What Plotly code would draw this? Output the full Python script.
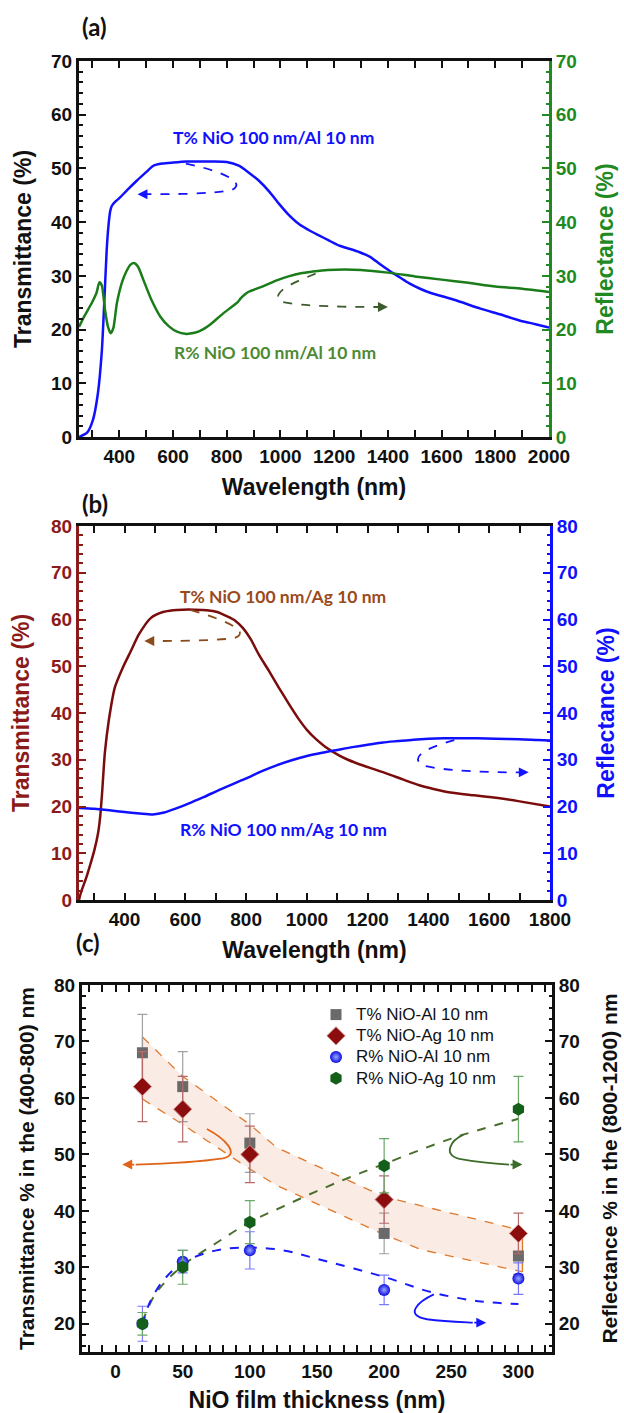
import plotly.graph_objects as go

# ---------------- Panel (a): NiO 100 nm / Al 10 nm ----------------
a_wl_T = [250, 280, 302, 320, 335, 345, 353, 360, 366, 372, 385, 403, 430, 465, 500, 527, 560, 600,
          650, 700, 750, 800, 845, 880, 920, 960, 995, 1030, 1070, 1110, 1145, 1180, 1220, 1260, 1295,
          1335, 1370, 1410, 1445, 1480, 1520, 1560, 1595, 1650, 1745, 1820, 1890, 1950, 2000]
a_T = [0, 0.8, 3.2, 8, 16, 26, 34.7, 39.5, 42, 43, 43.8, 44.6, 46, 47.7, 49.3, 50.5, 50.9, 51.1,
       51.3, 51.3, 51.3, 51.2, 50.5, 49.3, 47.7, 45.6, 43.4, 41.4, 39.6, 38.4, 37.5, 36.6, 35.6, 35.0, 34.4,
       33.5, 32.2, 30.8, 29.7, 28.6, 27.6, 26.8, 26.3, 25.5, 23.9, 22.8, 21.7, 21.0, 20.4]
a_wl_R = [250, 270, 297, 315, 326, 335, 347, 358, 368, 378, 391, 410, 428, 442, 455, 470, 490, 520,
          553, 585, 615, 646, 680, 710, 740, 777, 810, 839, 852, 864, 880, 900, 927, 960, 989, 1030,
          1076, 1120, 1176, 1240, 1300, 1400, 1500, 1600, 1700, 1800, 1900, 2000]
a_R = [20.5, 22.5, 24.9, 26.8, 28.8, 28.2, 23.6, 20.5, 19.3, 20.3, 24.9, 28.8, 31.0, 32.1, 32.4, 31.7, 29.2, 25.5,
       22.4, 20.6, 19.6, 19.2, 19.4, 20.0, 21.0, 22.6, 23.9, 25.0, 25.8, 26.4, 27.0, 27.4, 27.9, 28.6, 29.2, 29.9,
       30.5, 30.8, 31.1, 31.2, 31.1, 30.6, 29.9, 29.3, 28.7, 28.0, 27.6, 27.0]
a_xticks = [400, 600, 800, 1000, 1200, 1400, 1600, 1800, 2000]
a_yticks = [0, 10, 20, 30, 40, 50, 60, 70]

# ---------------- Panel (b): NiO 100 nm / Ag 10 nm ----------------
b_wl_T = [250, 256, 275, 289, 300, 313, 320, 326, 335, 348, 368, 394, 421, 447, 486, 526, 560, 592,
          630, 670, 705, 736, 765, 789, 815, 841, 875, 907, 940, 972, 1000, 1030, 1060, 1104, 1135,
          1170, 1215, 1261, 1315, 1367, 1420, 1472, 1550, 1629, 1700, 1800]
b_T = [0, 1.5, 5, 8, 10.5, 14.4, 18, 22.9, 31.4, 38.4, 45.5, 49.7, 53.3, 56.8, 60.3, 61.6, 62.0, 62.1,
       62.1, 62.0, 61.6, 60.7, 59.7, 58.2, 55.8, 52.6, 49.0, 45.5, 42.0, 38.8, 36.4, 34.4, 32.8, 31.0, 30.0,
       29.1, 28.1, 27.1, 25.8, 24.6, 23.7, 23.0, 22.4, 21.8, 21.1, 20.0]
b_wl_R = [250, 300, 350, 400, 450, 493, 530, 570, 620, 660, 710, 760, 800, 850, 900, 950, 1000, 1050,
          1100, 1150, 1200, 1250, 1300, 1350, 1400, 1450, 1500, 1560, 1620, 1700, 1760, 1800]
b_R = [19.7, 19.5, 19.2, 18.8, 18.5, 18.3, 18.7, 19.6, 20.9, 22.0, 23.5, 24.9, 26.0, 27.5, 28.8, 29.9, 30.8, 31.5,
       32.1, 32.7, 33.2, 33.7, 34.0, 34.3, 34.5, 34.6, 34.6, 34.6, 34.5, 34.4, 34.2, 34.1]
b_xticks = [400, 600, 800, 1000, 1200, 1400, 1600, 1800]
b_yticks = [0, 10, 20, 30, 40, 50, 60, 70, 80]

# ---------------- Panel (c): vs NiO thickness ----------------
thickness = [20, 50, 100, 200, 300]
T_Al = [68, 62, 52, 36, 32]
T_Al_err = [6.8, 6.2, 5.2, 3.6, 3.2]
T_Ag = [62, 58, 50, 42, 36]
T_Ag_err = [6.2, 5.8, 5.0, 4.2, 3.6]
R_Al = [20, 31, 33, 26, 28]
R_Al_err = [3.1, 2.0, 3.3, 2.6, 2.8]
R_Ag = [20, 30, 38, 48, 58]
R_Ag_err = [2.0, 3.0, 3.8, 4.8, 5.8]
band_up_x = [20, 50, 100, 120, 200, 303]
band_up_y = [70.8, 63.8, 55.3, 51.2, 42.5, 36.5]
band_lo_x = [20, 50, 100, 120, 200, 228, 303]
band_lo_y = [59.8, 55.3, 47.4, 44.5, 35.8, 33.1, 29.2]
fit_RAg_x = [20, 30, 50, 75, 100, 125, 150, 175, 200, 250, 300]
fit_RAg_y = [20.3, 25.4, 30.3, 34.3, 38.0, 40.8, 43.5, 46.0, 48.3, 52.8, 56.3]
fit_RAl_x = [20, 25, 35, 50, 75, 100, 125, 150, 200, 235, 270, 300]
fit_RAl_y = [19.7, 23.5, 27.5, 30.8, 33.0, 33.5, 33.0, 31.5, 28.3, 25.6, 24.0, 23.5]
c_xticks = [0, 50, 100, 150, 200, 250, 300]
c_yticks = [20, 30, 40, 50, 60, 70, 80]

# curved guide arrows: xref, yref, colour, dash, path control points, tail, tip
arrows = [
    ("x", "y", "#1414ff", "dash", [(648, 50.9), (760, 49.8), (880, 47.5), (820, 46.0), (740, 45.2), (600, 45.2), (500, 45.2)], (500, 45.2), (468, 45.2)),
    ("x", "y", "#3d5c2c", "dash", [(1131, 30.4), (1060, 29.0), (960, 27.0), (1000, 25.2), (1080, 24.3), (1250, 24.2), (1370, 24.2)], (1370, 24.2), (1400, 24.2)),
    ("x2", "y3", "#8b4a1a", "dash", [(618, 62.0), (700, 60.5), (830, 57.5), (760, 56.0), (680, 55.4), (560, 55.4), (495, 55.4)], (495, 55.4), (465, 55.4)),
    ("x2", "y3", "#1414ff", "dash", [(1485, 34.2), (1420, 33.0), (1330, 31.0), (1380, 28.8), (1450, 27.6), (1600, 27.3), (1700, 27.3)], (1700, 27.3), (1730, 27.3)),
    ("x3", "y5", "#e0641a", "solid", [(68, 54.5), (80, 53.0), (94, 50.0), (80, 49.3), (60, 48.6), (30, 48.3), (15, 48.2)], (15, 48.2), (5, 48.2)),
    ("x3", "y5", "#3d6b2a", "solid", [(259, 53.5), (250, 52.5), (243, 50.0), (256, 49.2), (270, 48.6), (285, 48.3), (293, 48.2)], (293, 48.2), (303, 48.2)),
    ("x3", "y5", "#1414ff", "solid", [(237, 25.2), (226, 24.0), (214, 21.5), (232, 20.8), (245, 20.4), (258, 20.3), (266, 20.2)], (266, 20.2), (276, 20.2)),
]

TICKF = "Liberation Sans, Arial, sans-serif"
LABF = "Lato, Carlito, sans-serif"
BLACK = "#111111"
GREEN = "#1f8a1f"
GREEN_TXT = "#4d8a33"
BLUE = "#1010ff"
MAROON = "#7a0c0c"
MAROON_TXT = "#8b1a1a"
BROWN_TXT = "#9a4a1a"

W, H = 624, 1413


def px(x):
    return x / W


def py(y):
    return 1 - y / H


def big(name):
    return '<span style="font-size:17px">%s</span>' % name


fig = go.Figure()

# panel (a)
fig.add_trace(go.Scatter(x=a_wl_T, y=a_T, mode="lines", line=dict(color=BLUE, width=2.5, shape="spline", smoothing=0.6),
                         xaxis="x", yaxis="y", showlegend=False))
fig.add_trace(go.Scatter(x=a_wl_R, y=a_R, mode="lines", line=dict(color="#1a7d1a", width=2.5, shape="spline", smoothing=0.6),
                         xaxis="x", yaxis="y2", showlegend=False))
# panel (b)
fig.add_trace(go.Scatter(x=b_wl_T, y=b_T, mode="lines", line=dict(color=MAROON, width=2.5, shape="spline", smoothing=0.6),
                         xaxis="x2", yaxis="y3", showlegend=False))
fig.add_trace(go.Scatter(x=b_wl_R, y=b_R, mode="lines", line=dict(color=BLUE, width=2.5, shape="spline", smoothing=0.6),
                         xaxis="x2", yaxis="y4", showlegend=False))

# panel (c) band
fig.add_trace(go.Scatter(x=band_up_x + band_lo_x[::-1], y=band_up_y + band_lo_y[::-1], mode="lines",
                         fill="toself", fillcolor="rgba(240,200,180,0.35)", line=dict(width=0),
                         xaxis="x3", yaxis="y5", showlegend=False, hoverinfo="skip"))
fig.add_trace(go.Scatter(x=band_up_x, y=band_up_y, mode="lines", line=dict(color="#e0782a", width=1.3, dash="dash"),
                         xaxis="x3", yaxis="y5", showlegend=False))
fig.add_trace(go.Scatter(x=band_lo_x, y=band_lo_y, mode="lines", line=dict(color="#e0782a", width=1.3, dash="dash"),
                         xaxis="x3", yaxis="y5", showlegend=False))
fig.add_trace(go.Scatter(x=[band_up_x[0], band_lo_x[0]], y=[band_up_y[0], band_lo_y[0]], mode="lines",
                         line=dict(color="#e0782a", width=1.3), xaxis="x3", yaxis="y5", showlegend=False))
fig.add_trace(go.Scatter(x=[band_up_x[-1], band_lo_x[-1]], y=[band_up_y[-1], band_lo_y[-1]], mode="lines",
                         line=dict(color="#e0782a", width=1.3), xaxis="x3", yaxis="y5", showlegend=False))
# fitted dashed guides
fig.add_trace(go.Scatter(x=fit_RAg_x, y=fit_RAg_y, mode="lines", line=dict(color="#4a6e2e", width=2, dash="dash", shape="spline"),
                         xaxis="x3", yaxis="y6", showlegend=False))
fig.add_trace(go.Scatter(x=fit_RAl_x, y=fit_RAl_y, mode="lines", line=dict(color="#1a1aff", width=2, dash="dash", shape="spline"),
                         xaxis="x3", yaxis="y6", showlegend=False))
# markers
fig.add_trace(go.Scatter(x=thickness, y=T_Al, mode="markers", name=big("T% NiO-Al 10 nm"),
                         marker=dict(symbol="square", size=11, color="#6a6a6a"),
                         error_y=dict(type="data", array=T_Al_err, color="#a0a0a0", thickness=1.2, width=5),
                         xaxis="x3", yaxis="y5"))
fig.add_trace(go.Scatter(x=thickness, y=T_Ag, mode="markers", name=big("T% NiO-Ag 10 nm"),
                         marker=dict(symbol="diamond", size=14, color="#8b0d0d", line=dict(color="#d08a8a", width=1)),
                         error_y=dict(type="data", array=T_Ag_err, color="#b86a6a", thickness=1.2, width=5),
                         xaxis="x3", yaxis="y5"))
fig.add_trace(go.Scatter(x=thickness, y=R_Al, mode="markers", name=big("R% NiO-Al 10 nm"),
                         marker=dict(symbol="circle", size=12, color="#0c0ce0", gradient=dict(type="radial", color="#9aa8ff")),
                         error_y=dict(type="data", array=R_Al_err, color="#7a7aff", thickness=1.2, width=5),
                         xaxis="x3", yaxis="y6"))
fig.add_trace(go.Scatter(x=thickness, y=R_Ag, mode="markers", name=big("R% NiO-Ag 10 nm"),
                         marker=dict(symbol="hexagon", size=13, color="#14601a"),
                         error_y=dict(type="data", array=R_Ag_err, color="#6aa86a", thickness=1.2, width=5),
                         xaxis="x3", yaxis="y6"))

shapes = []
annotations = []
for xr, yr, col, dash, pts, tail, tip in arrows:
    p = "M %g,%g C %g,%g %g,%g %g,%g C %g,%g %g,%g %g,%g" % tuple(v for pt in pts for v in pt)
    shapes.append(dict(type="path", path=p, xref=xr, yref=yr, line=dict(color=col, width=1.8, dash=dash), layer="above"))
    annotations.append(dict(x=tip[0], y=tip[1], ax=tail[0], ay=tail[1], xref=xr, yref=yr, axref=xr, ayref=yr,
                            showarrow=True, arrowhead=2, arrowsize=1.1, arrowwidth=1.8, arrowcolor=col, text="", standoff=0))

# curve labels
annotations += [
    dict(x=975, y=55.8, xref="x", yref="y", text="<b>T% NiO 100 nm/Al 10 nm</b>", showarrow=False,
         font=dict(family=LABF, size=17.5, color=BLUE)),
    dict(x=980, y=15.8, xref="x", yref="y", text="<b>R% NiO 100 nm/Al 10 nm</b>", showarrow=False,
         font=dict(family=LABF, size=17.5, color=GREEN_TXT)),
    dict(x=920, y=65.0, xref="x2", yref="y3", text="<b>T% NiO 100 nm/Ag 10 nm</b>", showarrow=False,
         font=dict(family=LABF, size=17.5, color=BROWN_TXT)),
    dict(x=922, y=15.1, xref="x2", yref="y3", text="<b>R% NiO 100 nm/Ag 10 nm</b>", showarrow=False,
         font=dict(family=LABF, size=17.5, color=BLUE)),
    dict(x=px(95), y=py(27), xref="paper", yref="paper", xanchor="center", yanchor="middle",
         text="<b>(a)</b>", showarrow=False, font=dict(family=LABF, size=24, color=BLACK)),
    dict(x=px(95), y=py(503), xref="paper", yref="paper", xanchor="center", yanchor="middle",
         text="<b>(b)</b>", showarrow=False, font=dict(family=LABF, size=24, color=BLACK)),
    dict(x=px(88), y=py(942), xref="paper", yref="paper", xanchor="center", yanchor="middle",
         text="<b>(c)</b>", showarrow=False, font=dict(family=LABF, size=24, color=BLACK)),
]


def axis(rng, tickvals, color, line_color, title, title_color, title_size=23, minor_dtick=None, standoff=14, **kw):
    d = dict(range=rng, tickmode="array", tickvals=tickvals, showline=True, linewidth=3, linecolor=line_color,
             ticks="inside", ticklen=7, tickwidth=2, tickcolor=line_color, showgrid=False, zeroline=False,
             tickfont=dict(family=TICKF, size=19, color=color, weight="bold"),
             title=dict(text=title, font=dict(family=TICKF, size=title_size, color=title_color, weight="bold"),
                        standoff=standoff),
             automargin=False)
    if minor_dtick:
        d["minor"] = dict(dtick=minor_dtick, tick0=0, ticks="inside", ticklen=3.5, tickwidth=1.5,
                          tickcolor=line_color, showgrid=False)
    d.update(kw)
    return d


fig.update_layout(
    width=W, height=H, margin=dict(l=0, r=0, t=0, b=0),
    paper_bgcolor="white", plot_bgcolor="white",
    # panel (a)
    xaxis=axis([250, 2000], a_xticks, BLACK, BLACK, "Wavelength (nm)", BLACK, minor_dtick=100,
               domain=[px(79), px(549)], anchor="y", mirror="allticks"),
    yaxis=axis([0, 70], a_yticks, BLACK, BLACK, "Transmittance (%)", BLACK, minor_dtick=2,
               domain=[py(437), py(61)], anchor="x"),
    yaxis2=axis([0, 70], a_yticks, GREEN, GREEN, "Reflectance (%)", GREEN, minor_dtick=2, standoff=21,
                overlaying="y", side="right", anchor="x"),
    # panel (b)
    xaxis2=axis([250, 1800], b_xticks, BLACK, BLACK, "Wavelength (nm)", BLACK, minor_dtick=100,
                domain=[px(79), px(550)], anchor="y3", mirror="allticks"),
    yaxis3=axis([0, 80], b_yticks, MAROON_TXT, MAROON_TXT, "Transmittance (%)", MAROON_TXT, minor_dtick=2, standoff=16,
                domain=[py(900), py(526)], anchor="x2"),
    yaxis4=axis([0, 80], b_yticks, BLUE, BLUE, "Reflectance (%)", BLUE, minor_dtick=2, standoff=21,
                overlaying="y3", side="right", anchor="x2"),
    # panel (c)
    xaxis3=axis([-25, 325], c_xticks, BLACK, BLACK, "NiO film thickness (nm)", BLACK, minor_dtick=10,
                domain=[px(82), px(552)], anchor="y5", mirror="allticks"),
    yaxis5=axis([15, 80], c_yticks, BLACK, BLACK, "Transmittance % in the (400-800) nm", BLACK, title_size=21,
                minor_dtick=2, domain=[py(1352), py(985)], anchor="x3"),
    yaxis6=axis([15, 80], c_yticks, BLACK, BLACK, "Reflectance % in the (800-1200) nm", BLACK, title_size=21,
                minor_dtick=2, standoff=24, overlaying="y5", side="right", anchor="x3"),
    legend=dict(x=px(316), y=py(999), xanchor="left", yanchor="top", bgcolor="rgba(0,0,0,0)",
                font=dict(family=TICKF, size=14, color=BLACK), tracegroupgap=0),
    shapes=shapes,
    annotations=annotations,
)

fig.write_html("out.html")
